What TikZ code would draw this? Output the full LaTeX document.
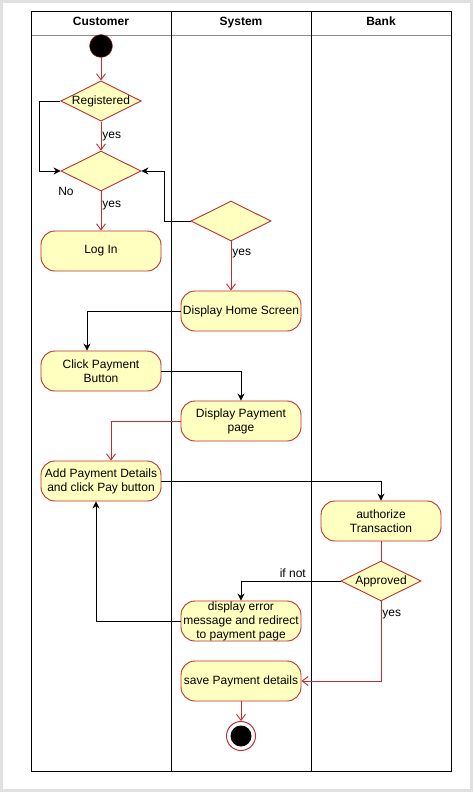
\documentclass[tikz,border=0pt]{standalone}
\usepackage{fontspec}
\setmainfont{Liberation Sans}
\usetikzlibrary{shapes.geometric,arrows.meta}
\definecolor{actfill}{HTML}{FFFFC0}
\definecolor{actline}{HTML}{C02F2F}
\begin{document}
\begin{tikzpicture}[x=1pt,y=-1pt,font=\fontsize{12}{14}\selectfont,
    act/.style={draw=actline,line width=0.9pt,fill=actfill,rounded corners=14pt,minimum width=120pt,minimum height=40pt,align=center,inner xsep=1pt,inner ysep=0pt},
    dec/.style={diamond,draw=actline,line width=0.9pt,fill=actfill,minimum width=80pt,minimum height=40pt,aspect=2,inner sep=0pt},
    redflow/.style={draw=actline,line width=0.9pt,-{Straight Barb[length=6pt,width=9pt]}},
    flow/.style={draw=black,line width=0.8pt,-{Stealth[length=7pt,width=7pt]}},
    lane/.style={font=\bfseries\fontsize{12}{14}\selectfont,text height=9pt,text depth=2.5pt}]
    \useasboundingbox (0,0) rectangle (473,792);
    \fill[white] (0,0) rectangle (473,792);
    \draw[black!12,line width=3pt] (1.5,1.5) rectangle (471.5,790.5);
    \draw[black!45] (31,35) -- (451,35);
    \draw[line width=0.8pt] (31,11) rectangle (451,771);
    \draw[line width=0.8pt] (171,11) -- (171,771);
    \draw[line width=0.8pt] (311,11) -- (311,771);
    \node[lane] (hcust) at (101,22) {Customer};
    \node[lane] (hsys) at (241,22) {System};
    \node[lane] (hbank) at (381,22) {Bank};
    \node[circle,fill=black,draw=actline,minimum size=23pt,inner sep=0pt] (start) at (101,46) {};
    \node[dec] (reg) at (101,101) {Registered};
    \node[dec] (chk) at (101,171) {};
    \node (nolbl) at (66,191) {No};
    \node[act] (login) at (101,251) {Log In};
    \node[dec] (sysdec) at (231,221) {};
    \node[act] (home) at (241,311) {Display Home Screen};
    \node[act] (click) at (101,371) {Click Payment\\Button};
    \node[act] (paypage) at (241,421) {Display Payment\\page};
    \node[act] (details) at (101,481) {Add Payment Details\\and click Pay button};
    \node[act] (auth) at (381,521) {authorize\\Transaction};
    \node[dec] (appr) at (381,581) {Approved};
    \node[act] (err) at (241,621) {display error\\message and redirect\\to payment page};
    \node[act] (save) at (241,681) {save Payment details};
    \node[circle,draw=actline,fill=white,line width=1pt,minimum size=29pt,inner sep=0pt] (stop) at (241,736) {};
    \node[circle,fill=black,minimum size=21pt,inner sep=0pt] (stopdot) at (stop) {};
    \draw[redflow] (start) -- (reg);
    \draw[redflow] (reg) -- node[right,inner sep=1pt] {yes} (chk);
    \draw[flow] (reg.west) -- ++(-21,0) |- (chk.west);
    \draw[redflow] (chk) -- node[right,inner sep=1pt,pos=0.35] {yes} (login);
    \draw[flow] (sysdec.west) -- ++(-26,0) |- (chk.east);
    \draw[redflow] (sysdec.south) -- node[right,inner sep=1pt,pos=0.25] {yes} (sysdec.south |- home.north);
    \draw[flow] (home.west) -| ([xshift=-14pt]click.north);
    \draw[flow] (click.east) -| (paypage.north);
    \draw[redflow] (paypage.west) -| ([xshift=10pt]details.north);
    \draw[flow] (details.east) -| (auth.north);
    \draw[draw=actline,line width=0.9pt] (auth) -- (appr);
    \draw[flow] (appr.west) -| node[above,pos=0.24] {if not} (err.north);
    \draw[flow] (err.west) -| ([xshift=-5pt]details.south);
    \draw[redflow] (appr.south) |- node[right,inner sep=1pt,pos=0.08] {yes} (save.east);
    \draw[redflow] (save) -- (stop);
\end{tikzpicture}
\end{document}
